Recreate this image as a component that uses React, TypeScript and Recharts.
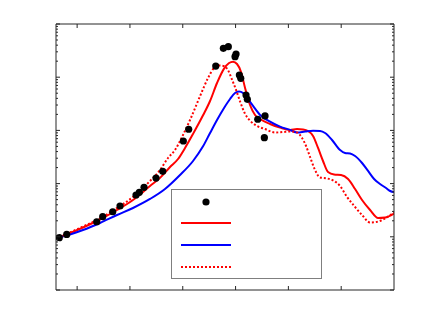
import React from "react";
import { ComposedChart, Line, Scatter, XAxis, YAxis } from "recharts";

// measured points
const measX = [0.662, 0.803, 1.371, 1.484, 1.674, 1.812, 2.115, 2.178, 2.267, 2.494, 2.621, 3.011, 3.113, 3.625, 3.769, 3.863, 3.99, 4.009, 4.072, 4.098, 4.198, 4.223, 4.42, 4.545, 4.558];
const measY = [0.0962, 0.111, 0.192, 0.239, 0.296, 0.379, 0.611, 0.686, 0.851, 1.27, 1.7, 6.32, 10.5, 162, 349, 374, 243, 273, 110, 95.3, 46.3, 38.4, 16.2, 7.29, 18.7];

// model A (red solid)
const redX = [0.657, 0.865, 1.111, 1.433, 1.755, 2.058, 2.38, 2.57, 2.759, 2.911, 3.043, 3.195, 3.384, 3.517, 3.649, 3.782, 3.877, 3.952, 4.028, 4.104, 4.18, 4.274, 4.369, 4.464, 4.653, 4.842, 5.032, 5.164, 5.278, 5.373, 5.467, 5.562, 5.656, 5.751, 5.865, 5.998, 6.13, 6.263, 6.395, 6.547, 6.698, 6.831, 7.0];
const redY = [0.097, 0.1178, 0.1496, 0.2114, 0.319, 0.492, 0.901, 1.28, 2.05, 2.9, 4.67, 8.6, 19.2, 35.7, 77.8, 145, 185, 196, 177, 125, 62.7, 30.0, 19.5, 16.4, 13.2, 11.3, 10.2, 10.6, 10.4, 9.74, 7.85, 4.67, 2.66, 1.65, 1.48, 1.45, 1.22, 0.792, 0.492, 0.319, 0.226, 0.231, 0.274];

// model B (blue)
const blueX = [0.657, 0.865, 1.111, 1.433, 1.755, 2.058, 2.38, 2.664, 2.948, 3.195, 3.384, 3.517, 3.649, 3.782, 3.895, 3.99, 4.066, 4.142, 4.236, 4.331, 4.464, 4.653, 4.842, 5.032, 5.164, 5.316, 5.467, 5.6, 5.695, 5.827, 5.979, 6.073, 6.168, 6.263, 6.395, 6.509, 6.623, 6.736, 6.85, 6.926, 7.0];
const blueY = [0.097, 0.1104, 0.134, 0.182, 0.257, 0.348, 0.514, 0.792, 1.45, 2.66, 5.01, 8.93, 15.7, 26.4, 38.9, 50.5, 53.8, 50.5, 38.9, 28.8, 19.5, 14.6, 11.8, 10.2, 9.13, 9.53, 9.87, 9.74, 8.93, 6.6, 4.28, 3.76, 3.68, 3.3, 2.44, 1.73, 1.22, 0.983, 0.826, 0.726, 0.695];

// model C (red dotted)
const dotX = [0.657, 0.865, 1.111, 1.433, 1.755, 2.058, 2.38, 2.57, 2.721, 2.854, 2.986, 3.138, 3.327, 3.479, 3.592, 3.687, 3.782, 3.858, 3.933, 4.009, 4.085, 4.18, 4.274, 4.407, 4.558, 4.748, 4.899, 5.032, 5.164, 5.259, 5.335, 5.411, 5.505, 5.6, 5.732, 5.865, 5.979, 6.111, 6.263, 6.395, 6.547, 6.661, 6.831, 7.0];
const dotY = [0.097, 0.1205, 0.156, 0.221, 0.348, 0.56, 1.12, 1.8, 3.03, 4.28, 7.52, 15.7, 44, 96.6, 149, 166, 162, 135, 90, 58, 35, 20.5, 15.3, 12.1, 10.6, 9.13, 9.33, 9.53, 9.13, 7.2, 5.09, 3.16, 1.8, 1.3, 1.25, 1.12, 0.901, 0.56, 0.363, 0.257, 0.186, 0.19, 0.221, 0.292];

const xTicks = [1, 2, 3, 4, 5, 6];
const yTicks = [
  0.01, 0.02, 0.03, 0.04, 0.05, 0.06, 0.07, 0.08, 0.09,
  0.1, 0.2, 0.3, 0.4, 0.5, 0.6, 0.7, 0.8, 0.9,
  1, 2, 3, 4, 5, 6, 7, 8, 9,
  10, 20, 30, 40, 50, 60, 70, 80, 90,
  100, 200, 300, 400, 500, 600, 700, 800, 900, 1000,
];

const pairs = (xs: number[], ys: number[]) => xs.map((x, i) => ({ x, y: ys[i] }));
const measData = pairs(measX, measY);
const redData = pairs(redX, redY);
const blueData = pairs(blueX, blueY);
const dotData = pairs(dotX, dotY);

const X_DOMAIN: [number, number] = [0.6, 7];
const Y_DOMAIN: [number, number] = [0.01, 1000];
const AXIS = "#262626";
const MAJOR = 4;
const MINOR = 2;

const isDecade = (v: number) => {
  const l = Math.log10(v);
  return Math.abs(l - Math.round(l)) < 1e-6;
};

const makeTick = (side: "left" | "right" | "top" | "bottom") => (p: any) => {
  const { x, y, payload } = p;
  const v = payload?.value;
  const len = side === "left" || side === "right" ? (isDecade(v) ? MAJOR : MINOR) : MAJOR;
  let x2 = x, y2 = y;
  if (side === "left") x2 = x + len;
  if (side === "right") x2 = x - len;
  if (side === "top") y2 = y + len;
  if (side === "bottom") y2 = y - len;
  return <line x1={x} y1={y} x2={x2} y2={y2} stroke={AXIS} strokeWidth={1} />;
};
const TickL = makeTick("left");
const TickR = makeTick("right");
const TickT = makeTick("top");
const TickB = makeTick("bottom");

const Dot = (p: any) => <circle cx={p.cx} cy={p.cy} r={3.6} fill="#000" />;

export default function App() {
  return (
    <div style={{ position: "absolute", left: 0, top: 0, width: 436, height: 328, background: "#fff" }}>
      <ComposedChart width={436} height={328} margin={{ top: 24, right: 42, bottom: 38, left: 56 }}>
        <XAxis xAxisId="b" dataKey="x" type="number" domain={X_DOMAIN} allowDataOverflow ticks={xTicks} interval={0}
          orientation="bottom" mirror tickSize={0} tickMargin={0} tick={TickB} tickLine={false} axisLine={{ stroke: AXIS }} />
        <XAxis xAxisId="t" dataKey="x" type="number" domain={X_DOMAIN} allowDataOverflow ticks={xTicks} interval={0}
          orientation="top" mirror tickSize={0} tickMargin={0} tick={TickT} tickLine={false} axisLine={{ stroke: AXIS }} />
        <YAxis yAxisId="l" dataKey="y" type="number" scale="log" domain={Y_DOMAIN} allowDataOverflow ticks={yTicks} interval={0}
          orientation="left" mirror tickSize={0} tickMargin={0} tick={TickL} tickLine={false} axisLine={{ stroke: AXIS }} />
        <YAxis yAxisId="r" type="number" scale="log" domain={Y_DOMAIN} allowDataOverflow ticks={yTicks} interval={0}
          orientation="right" mirror tickSize={0} tickMargin={0} tick={TickR} tickLine={false} axisLine={{ stroke: AXIS }} />
        <Scatter xAxisId="b" yAxisId="l" data={measData} dataKey="y" shape={Dot} isAnimationActive={false} />
        <Line xAxisId="b" yAxisId="l" data={redData} dataKey="y" type="monotone" stroke="#ff0000" strokeWidth={2} dot={false} isAnimationActive={false} />
        <Line xAxisId="b" yAxisId="l" data={blueData} dataKey="y" type="monotone" stroke="#0000ff" strokeWidth={2} dot={false} isAnimationActive={false} />
        <Line xAxisId="b" yAxisId="l" data={dotData} dataKey="y" type="monotone" stroke="#ff0000" strokeWidth={2} strokeDasharray="2 2" dot={false} isAnimationActive={false} />
      </ComposedChart>
      <svg width={152} height={91} style={{ position: "absolute", left: 171, top: 189 }}>
        <rect x={0.5} y={0.5} width={150} height={89} fill="#fff" stroke="#7f7f7f" strokeWidth={1} />
        <circle cx={35} cy={13} r={3.6} fill="#000" />
        <line x1={10} y1={34} x2={60} y2={34} stroke="#ff0000" strokeWidth={2} />
        <line x1={10} y1={56} x2={60} y2={56} stroke="#0000ff" strokeWidth={2} />
        <line x1={10} y1={78} x2={60} y2={78} stroke="#ff0000" strokeWidth={2} strokeDasharray="2 2" />
      </svg>
    </div>
  );
}
